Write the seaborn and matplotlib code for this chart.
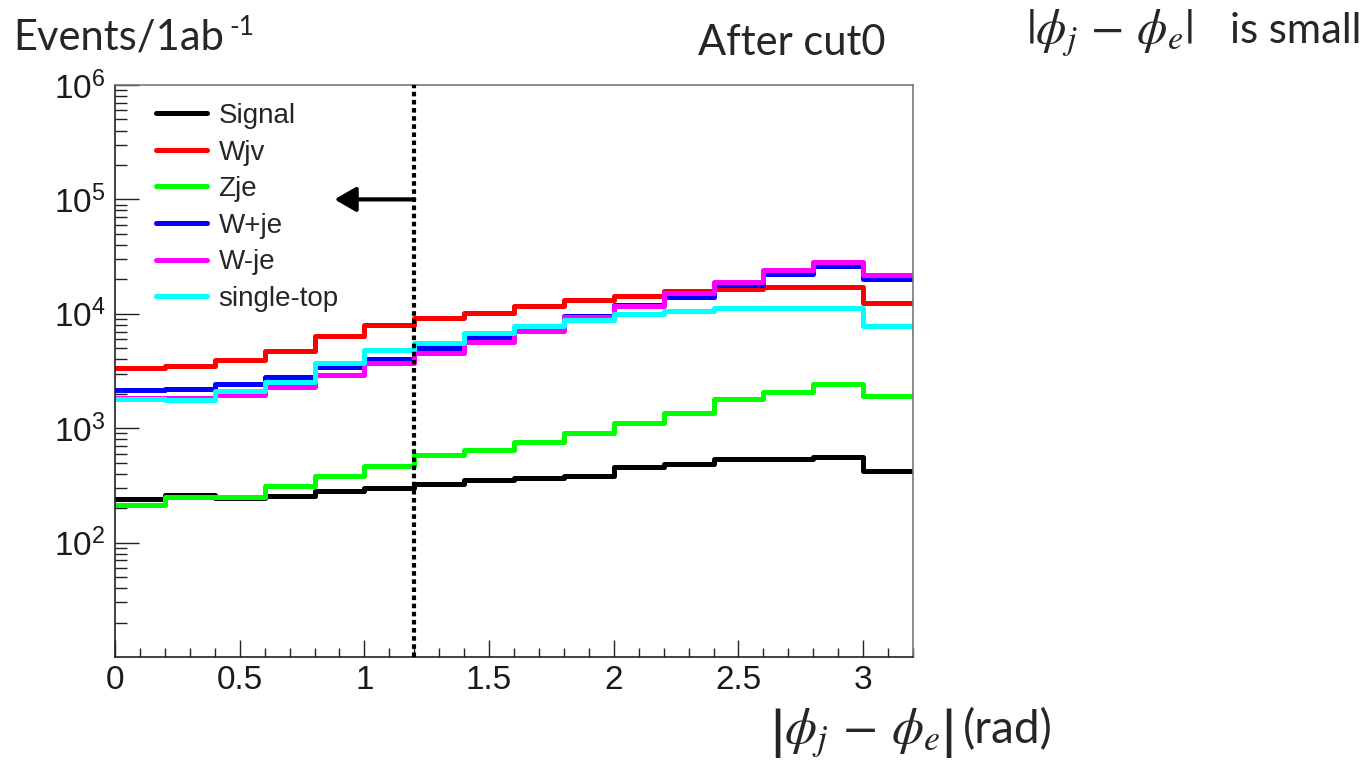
import numpy as np
import pandas as pd
import matplotlib
matplotlib.use("Agg")
import matplotlib.pyplot as plt
import matplotlib.ticker as mticker
from matplotlib.lines import Line2D
import seaborn as sns

# ---- data: events per 0.2 rad bin ----
bin_edges = [0.0, 0.2, 0.4, 0.6, 0.8, 1.0, 1.2, 1.4, 1.6,
             1.8, 2.0, 2.2, 2.4, 2.6, 2.8, 3.0, 3.2]

signal = [240, 261, 247, 255, 282, 302, 325, 352,
          365, 382, 455, 486, 538, 538, 564, 425]
wjv = [3380, 3520, 3930, 4730, 6440, 7940, 9190, 10200,
       11770, 13130, 14310, 15820, 16480, 17050, 17050, 12350]
zje = [213, 252, 252, 314, 382, 470, 583, 650,
       762, 914, 1118, 1367, 1787, 2083, 2430, 1911]
wplus = [2160, 2200, 2450, 2820, 3450, 4030, 4990, 6220,
         7400, 9570, 11900, 14100, 17850, 22100, 26300, 20150]
wminus = [1830, 1830, 1950, 2280, 2920, 3740, 4520, 5700,
          7070, 9400, 11770, 15100, 19080, 24150, 28200, 21850]
single_top = [1800, 1760, 2110, 2550, 3740, 4830, 5590, 6840,
              7820, 8830, 9950, 10650, 11160, 11160, 11160, 7870]

labels = ["Signal", "Wjv", "Zje", "W+je", "W-je", "single-top"]
colors = ["#000000", "#ff0000", "#00ff00", "#0000ff", "#ff00ff", "#00ffff"]
series = [signal, wjv, zje, wplus, wminus, single_top]

cut_value = 1.2

sns.set_style("ticks")
plt.rcParams["font.family"] = ["Liberation Sans", "DejaVu Sans"]
plt.rcParams["mathtext.fontset"] = "stix"

W, H = 1370, 763
fig = plt.figure(figsize=(W / 100, H / 100), dpi=100)
ax = fig.add_axes([115 / W, (H - 657) / H, 798 / W, 572 / H])

centers = [(a + b) / 2 for a, b in zip(bin_edges[:-1], bin_edges[1:])]

# one step histogram per process, same drawing order as the original
for name, vals, c in zip(labels, series, colors):
    df = pd.DataFrame({"dphi": centers, "events": vals})
    sns.histplot(data=df, x="dphi", weights="events", bins=list(bin_edges),
                 element="step", fill=False, color=c, linewidth=3.6, ax=ax)

ax.set_yscale("log")
ax.set_xlim(0, 3.2)
ax.set_ylim(10, 1e6)
ax.set_xlabel("")
ax.set_ylabel("")

# cut line and arrow
ax.axvline(cut_value, color="black", lw=3, linestyle=(0, (1.1, 0.85)), zorder=6)
ax.annotate("", xy=(0.88, 1e5), xytext=(cut_value, 1e5),
            arrowprops=dict(arrowstyle="-|>,head_length=1.3,head_width=0.75",
                            lw=3, color="black", shrinkA=0, shrinkB=0),
            zorder=6)

# ticks (ROOT look)
ax.yaxis.set_major_locator(mticker.FixedLocator([1e2, 1e3, 1e4, 1e5, 1e6]))
ax.yaxis.set_major_formatter(mticker.LogFormatterSciNotation())
ax.yaxis.set_minor_locator(mticker.LogLocator(base=10, subs=np.arange(2, 10)))
ax.yaxis.set_minor_formatter(mticker.NullFormatter())
ax.xaxis.set_major_locator(mticker.MultipleLocator(0.5))
ax.xaxis.set_minor_locator(mticker.MultipleLocator(0.1))
ax.xaxis.set_major_formatter(mticker.FuncFormatter(lambda v, p: f"{v:g}"))

ax.tick_params(axis="both", which="both", direction="in", top=False, right=False,
               labelsize=24, labelcolor="#1a1a1a", color="#222222", width=1)
ax.tick_params(axis="y", which="major", length=17, pad=7)
ax.tick_params(axis="y", which="minor", length=8.5)
ax.tick_params(axis="x", which="major", length=12, pad=6)
ax.tick_params(axis="x", which="minor", length=6.5)

for s in ["left", "bottom"]:
    ax.spines[s].set_color("#222222")
    ax.spines[s].set_linewidth(1.2)
for s in ["top", "right"]:
    ax.spines[s].set_color("#777777")
    ax.spines[s].set_linewidth(1.2)

# legend
handles = [Line2D([], [], color=c, lw=3.6) for c in colors]
ax.legend(handles, labels, loc="upper left", frameon=False,
          bbox_to_anchor=(41 / 798, (657 - 103) / 572),
          borderpad=0, borderaxespad=0, handlelength=1.85, handletextpad=0.4,
          labelspacing=0.38, prop={"family": "Liberation Sans", "size": 20})

# slide texts
fig.text(13 / W, 1 - 49 / H, "Events/1ab", fontsize=30, family="Lato", va="baseline")
fig.text(229 / W, 1 - 35 / H, "-1", fontsize=19, family="Lato", va="baseline")
fig.text(698 / W, 1 - 55 / H, "After cut0", fontsize=30, family="Lato", va="baseline")
fig.text(1026 / W, 1 - 43 / H, r"$|\phi_j\,-\,\phi_e|$", fontsize=35, va="baseline")
fig.text(1230 / W, 1 - 43 / H, "is small", fontsize=30, family="Lato", va="baseline")
fig.text(770 / W, 1 - 743 / H, r"$\left|\phi_j\,-\,\phi_e\right|$", fontsize=37, va="baseline")
fig.text(963 / W, 1 - 743 / H, "(rad)", fontsize=33, family="Lato", va="baseline")

fig.savefig("out.png", dpi=100)
